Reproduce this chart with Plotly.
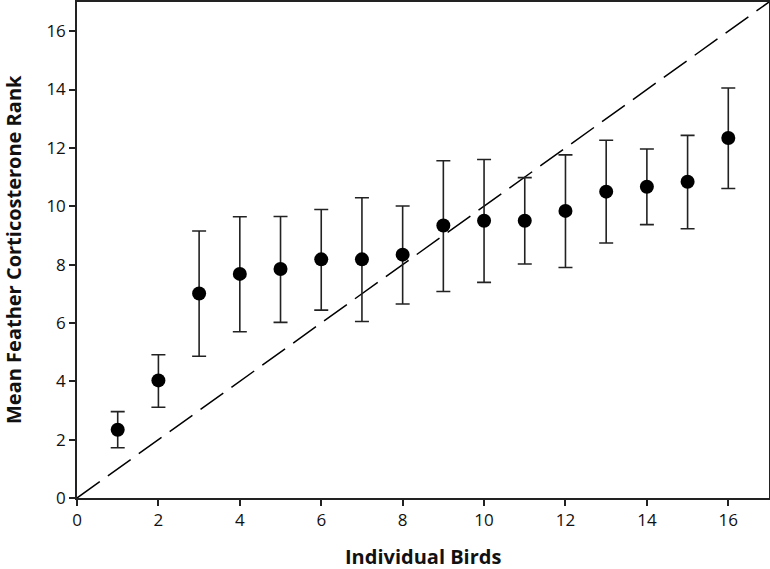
import plotly.graph_objects as go

birds = list(range(1, 17))
mean_rank = [2.34, 4.03, 7.01, 7.68, 7.85, 8.18, 8.18, 8.34, 9.34, 9.50, 9.50, 9.84, 10.50, 10.67, 10.84, 12.34]
err_upper = [2.96, 4.91, 9.15, 9.64, 9.65, 9.89, 10.29, 10.01, 11.56, 11.60, 10.98, 11.76, 12.26, 11.96, 12.43, 14.05]
err_lower = [1.72, 3.11, 4.86, 5.70, 6.02, 6.44, 6.05, 6.65, 7.08, 7.39, 8.02, 7.90, 8.74, 9.37, 9.23, 10.61]
line_x = [0, 17]
line_y = [0, 17]
ticks = list(range(0, 17, 2))

plus = [u - m for u, m in zip(err_upper, mean_rank)]
minus = [m - l for m, l in zip(mean_rank, err_lower)]

fig = go.Figure()
fig.add_trace(go.Scatter(
    x=line_x, y=line_y, mode="lines",
    line=dict(color="black", width=1.5, dash="28px,10px"),
    hoverinfo="skip", showlegend=False))
fig.add_trace(go.Scatter(
    x=birds, y=mean_rank, mode="markers",
    marker=dict(color="black", size=14),
    error_y=dict(type="data", symmetric=False, array=plus, arrayminus=minus,
                 color="#222", thickness=1.6, width=7),
    showlegend=False))

axis_common = dict(
    range=[0, 17], tickvals=ticks, ticks="outside", ticklen=6, tickwidth=1.5,
    tickcolor="#222", showline=True, linecolor="#222", linewidth=1.5,
    mirror=True, showgrid=False, zeroline=False, automargin=False,
    tickfont=dict(family="Open Sans, sans-serif", size=17, color="#111"))

fig.update_xaxes(**axis_common)
fig.update_yaxes(**axis_common)

title_font = dict(family="Open Sans, sans-serif", size=20, color="#111")
fig.add_annotation(text="<b>Individual Birds</b>", xref="paper", yref="paper",
                   x=0.5, y=0, yshift=-58, xanchor="center", yanchor="middle",
                   showarrow=False, font=title_font)
fig.add_annotation(text="<b>Mean Feather Corticosterone Rank</b>", xref="paper", yref="paper",
                   x=0, xshift=-64, y=0.5, xanchor="center", yanchor="middle",
                   textangle=-90, showarrow=False, font=title_font)

fig.update_layout(
    width=770, height=569,
    margin=dict(l=77, r=1, t=2, b=71, autoexpand=False),
    paper_bgcolor="white", plot_bgcolor="white")

fig.write_html("out.html", config={"displayModeBar": False},
               post_script="document.body.style.margin='0';document.body.style.overflow='hidden';")
